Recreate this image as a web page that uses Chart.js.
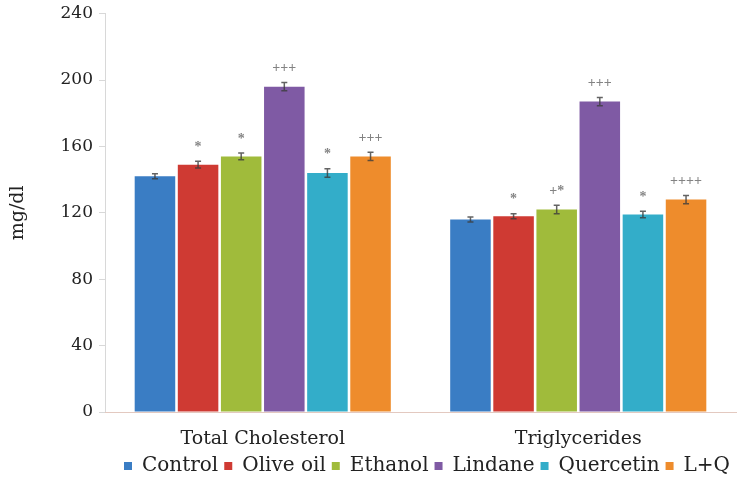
<!DOCTYPE html>
<html>
<head>
<meta charset="utf-8">
<script src="https://cdn.jsdelivr.net/npm/chart.js@4"></script>
<style>
    body { margin: 0; background: #ffffff; }
    #wrap { width: 737px; height: 486px; }
</style>
</head>
<body>
<div id="wrap"><canvas id="lipidChart"></canvas></div>
<script>
// measured groups
const categories = ['Total Cholesterol', 'Triglycerides'];
const seriesNames = ['Control', 'Olive oil', 'Ethanol', 'Lindane', 'Quercetin', 'L+Q'];

const controlValues = [142, 116];
const oliveOilValues = [149, 118];
const ethanolValues = [154, 122];
const lindaneValues = [196, 187];
const quercetinValues = [144, 119];
const lqValues = [154, 128];

const controlErrors = [1.5, 1.5];
const oliveOilErrors = [2, 1.5];
const ethanolErrors = [2, 2.5];
const lindaneErrors = [2.5, 2.5];
const quercetinErrors = [2.5, 2];
const lqErrors = [2.5, 2.5];

// significance marks above the bars
const controlMarks = ['', ''];
const oliveOilMarks = ['*', '*'];
const ethanolMarks = ['*', '+*'];
const lindaneMarks = ['+++', '+++'];
const quercetinMarks = ['*', '*'];
const lqMarks = ['+++', '++++'];

const yTicks = [0, 40, 80, 120, 160, 200, 240];

const seriesColors = ['#3a7dc4', '#cf3a33', '#a0bb3b', '#7f5aa4', '#33adc9', '#ee8c2c'];

const allValues = [controlValues, oliveOilValues, ethanolValues, lindaneValues, quercetinValues, lqValues];
const allErrors = [controlErrors, oliveOilErrors, ethanolErrors, lindaneErrors, quercetinErrors, lqErrors];
const allMarks = [controlMarks, oliveOilMarks, ethanolMarks, lindaneMarks, quercetinMarks, lqMarks];

const serifFont = "'DejaVu Serif', 'Liberation Serif', serif";

//Draws the error bars and the significance marks.
const errorBarPlugin = {
    id: 'errorBars',
    afterDatasetsDraw(chart) {
        const ctx = chart.ctx;
        const yScale = chart.scales.y;
        ctx.save();
        chart.data.datasets.forEach(function (dataSet, d) {
            const meta = chart.getDatasetMeta(d);
            meta.data.forEach(function (bar, i) {
                const v = dataSet.data[i];
                const err = allErrors[d][i];
                const yHigh = yScale.getPixelForValue(v + err);
                const yLow = yScale.getPixelForValue(v - err);
                ctx.strokeStyle = 'rgba(60,60,60,0.8)';
                ctx.lineWidth = 1.5;
                ctx.beginPath();
                ctx.moveTo(bar.x, yHigh);
                ctx.lineTo(bar.x, yLow);
                ctx.moveTo(bar.x - 3, yHigh);
                ctx.lineTo(bar.x + 3, yHigh);
                ctx.moveTo(bar.x - 3, yLow);
                ctx.lineTo(bar.x + 3, yLow);
                ctx.stroke();

                const mark = allMarks[d][i];
                if (mark) {
                    ctx.fillStyle = 'rgba(90,90,90,0.75)';
                    ctx.font = "bold 14px 'Liberation Serif', serif";
                    ctx.textAlign = 'center';
                    ctx.textBaseline = 'middle';
                    ctx.fillText(mark, bar.x, yHigh - 14);
                }
            });
        });
        ctx.restore();
    }
};

const dataSets = [];
for (let s = 0; s < seriesNames.length; s++) {
    dataSets.push({
        label: seriesNames[s],
        data: allValues[s],
        backgroundColor: seriesColors[s],
        borderColor: seriesColors[s],
        borderWidth: 0,
        categoryPercentage: 0.82,
        barPercentage: 0.94
    });
}

const lipidChart = new Chart(document.getElementById('lipidChart'), {
    type: 'bar',
    data: {
        labels: categories,
        datasets: dataSets
    },
    options: {
        responsive: true,
        maintainAspectRatio: false,
        animation: false,
        layout: {
            padding: { top: 0, right: 1, bottom: 0, left: 0 }
        },
        scales: {
            y: {
                min: 0,
                max: 240,
                afterBuildTicks: function (axis) {
                    axis.ticks = yTicks.map(function (v) { return { value: v }; });
                },
                afterFit: function (axis) {
                    axis.width = 105;
                },
                grid: {
                    drawOnChartArea: false,
                    tickLength: 6,
                    color: '#d8d8d8'
                },
                border: { color: '#d8d8d8' },
                ticks: {
                    color: '#222222',
                    padding: 6,
                    font: { family: serifFont, size: 17, lineHeight: 0.9 }
                },
                title: {
                    display: true,
                    text: 'mg/dl',
                    color: '#222222',
                    padding: { top: 7, bottom: 6 },
                    font: { family: serifFont, size: 19 }
                }
            },
            x: {
                grid: { display: false },
                border: { color: '#e3c9c0' },
                afterFit: function (axis) {
                    axis.height = 38;
                },
                ticks: {
                    color: '#222222',
                    padding: 8,
                    font: { family: serifFont, size: 19 }
                }
            }
        },
        plugins: {
            legend: {
                display: true,
                position: 'bottom',
                align: 'end',
                labels: {
                    boxWidth: 8,
                    boxHeight: 8,
                    padding: 6,
                    color: '#222222',
                    font: { family: serifFont, size: 20 }
                }
            },
            tooltip: { enabled: false }
        }
    },
    plugins: [errorBarPlugin]
});
</script>
</body>
</html>
